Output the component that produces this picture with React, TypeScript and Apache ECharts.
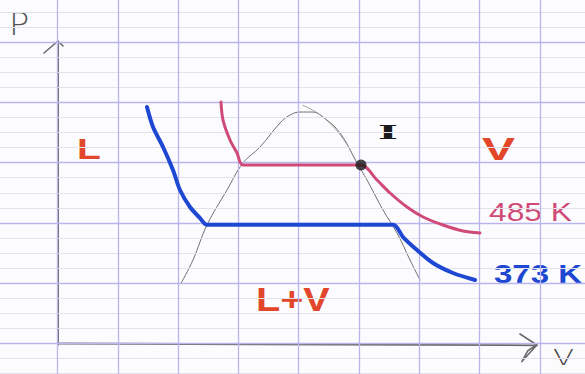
import React, { useEffect, useRef } from "react";
import * as echarts from "echarts";

// Grid units: one paper square = 1 unit, origin at the corner of the P–V axes.

// Saturation dome (liquid–vapour coexistence boundary)
const domeCurve: [number, number][] = [
  [2.048, 0.998], [2.247, 1.385], [2.479, 1.965], [2.811, 2.546], [3.076, 2.993],
  [3.358, 3.259], [3.69, 3.657], [3.856, 3.789], [4.022, 3.839], [4.237, 3.839],
  [4.403, 3.756], [4.685, 3.491], [4.967, 2.993], [5.133, 2.711], [5.398, 2.214],
  [5.63, 1.833], [5.846, 1.385], [6.012, 1.053],
];

// Second pencil stroke over the right side of the dome top
const domeStroke: [number, number][] = [
  [4.07, 3.95], [4.3, 3.83], [4.57, 3.6], [4.8, 3.3], [4.967, 2.993],
];

// Isotherm T = 485 K
const iso485: [number, number][] = [
  [2.711, 4.005], [2.745, 3.706], [2.861, 3.375], [2.977, 3.159], [3.076, 2.96],
  [5.033, 2.96], [5.299, 2.711], [5.514, 2.496], [5.796, 2.264], [6.062, 2.098],
  [6.393, 1.965], [6.725, 1.866], [7.007, 1.833],
];

// Isotherm T = 373 K
const iso373: [number, number][] = [
  [1.484, 3.922], [1.584, 3.59], [1.75, 3.259], [1.915, 2.878], [2.031, 2.546],
  [2.197, 2.264], [2.363, 2.081], [2.479, 1.97], [5.564, 1.97], [5.73, 1.766],
  [5.962, 1.551], [6.227, 1.335], [6.559, 1.169], [6.924, 1.053],
];

// Point where the 485 K isotherm leaves the dome
const pointI: [number, number][] = [[5.033, 2.96]];

// Hand-drawn axes with open arrowheads
const axisP: [number, number][] = [[0.01, -0.02], [0.01, 5.0]];
const axisV: [number, number][] = [[0.0, 0.0], [7.95, -0.03]];
const arrowP: [number, number][] = [[-0.224, 4.818], [0.008, 5.017], [0.091, 4.934]];
const arrowV: [number, number][] = [
  [7.67, 0.158], [7.95, -0.025], [7.7, -0.3], [7.8, -0.12], [7.93, -0.03],
];

// Squared paper: heavy rules every unit, light rules every quarter unit
const paperColumns = [-1, 0, 1, 2, 3, 4, 5, 6, 7, 8, 9];
const paperRows = [-1, 0, 1, 2, 3, 4, 5, 6];
const paperFaintRows = [
  -0.75, -0.5, -0.25, 0.25, 0.5, 0.75, 1.25, 1.5, 1.75, 2.25, 2.5, 2.75,
  3.25, 3.5, 3.75, 4.25, 4.5, 4.75, 5.25, 5.5, 5.75,
];

const tempLabels = ["485 K", "373 K"];
const phaseLabels = ["L", "V", "L+V"];

const pencil = "#6a6a6a";
const red = "#e2472c";
const pink = "#cf4a76";
const blue = "#1f48d2";
const ruleColor = "#b9b6ee";
const faintColor = "#e2e2ea";

export default function App() {
  const ref = useRef<HTMLDivElement>(null);

  useEffect(() => {
    document.body.style.margin = "0";
    const chart = echarts.init(ref.current!, null, { renderer: "svg" });

    const lineSeries = (
      data: [number, number][],
      color: string,
      width: number,
      smooth: number | boolean,
      z = 2
    ) => ({
      type: "line",
      data,
      smooth,
      showSymbol: false,
      symbol: "none",
      z,
      lineStyle: { color, width, cap: "round", join: "round" },
    });

    const rules = (
      items: { xAxis?: number; yAxis?: number }[],
      color: string,
      width: number,
      z: number
    ) => ({
      type: "line",
      data: [],
      z,
      markLine: {
        silent: true,
        symbol: ["none", "none"],
        label: { show: false },
        lineStyle: { color, width, type: "solid" },
        data: items,
      },
    });

    const label = (
      text: string,
      left: number,
      top: number,
      fill: string,
      font: string,
      scaleX = 1
    ) => ({
      type: "text",
      left,
      top,
      scaleX,
      style: { text, fill, font },
    });

    chart.setOption({
      animation: false,
      backgroundColor: "#fcfcfe",
      grid: { left: 0, top: 0, right: 0, bottom: 0 },
      xAxis: {
        type: "value",
        min: -0.9536,
        max: 8.748,
        show: false,
        splitLine: { show: false },
      },
      yAxis: {
        type: "value",
        min: -0.506,
        max: 5.697,
        show: false,
        splitLine: { show: false },
      },
      series: [
        rules(paperFaintRows.map((v) => ({ yAxis: v })), faintColor, 1, 0),
        rules(
          [
            ...paperColumns.map((v) => ({ xAxis: v })),
            ...paperRows.map((v) => ({ yAxis: v })),
          ],
          ruleColor,
          1.3,
          1
        ),
        lineSeries(axisP, pencil, 1.8, false, 3),
        lineSeries(axisV, pencil, 1.8, false, 3),
        lineSeries(arrowP, pencil, 1.6, false, 3),
        lineSeries(arrowV, pencil, 1.6, false, 3),
        lineSeries(domeCurve, "#707070", 1, 0.4, 4),
        lineSeries(domeStroke, "#9a9a9a", 0.9, 0.4, 4),
        lineSeries(iso485, pink, 3, 0.3, 5),
        lineSeries(iso373, blue, 4, 0.3, 6),
        {
          type: "scatter",
          data: pointI,
          symbolSize: 11,
          z: 7,
          itemStyle: { color: "#1a1a1a" },
        },
      ],
      graphic: [
        label("P", 9, 8, "#555", "300 32px 'DejaVu Sans'", 1.05),
        label("V", 553, 346, "#444", "300 22px 'DejaVu Sans'", 1.4),
        label(phaseLabels[0], 77, 134, red, "bold 30px 'Liberation Sans'", 1.3),
        label(phaseLabels[1], 482, 134, red, "bold 31px 'Liberation Sans'", 1.6),
        label(phaseLabels[2], 256, 283, red, "bold 33px 'Liberation Sans'", 1.2),
        {
          type: "text",
          x: 388,
          y: 132,
          scaleX: 2.3,
          style: {
            text: "I",
            fill: "#1a1a1a",
            font: "bold 19px 'DejaVu Serif'",
            align: "center",
            verticalAlign: "middle",
          },
        },
        label(tempLabels[0], 489, 200, pink, "25px 'Liberation Sans'", 1.27),
        label(tempLabels[1], 494, 262, blue, "bold 25px 'Liberation Sans'", 1.32),
      ],
    });

    return () => chart.dispose();
  }, []);

  return (
    <div
      ref={ref}
      style={{ position: "fixed", left: 0, top: 0, width: 585, height: 374 }}
    />
  );
}
